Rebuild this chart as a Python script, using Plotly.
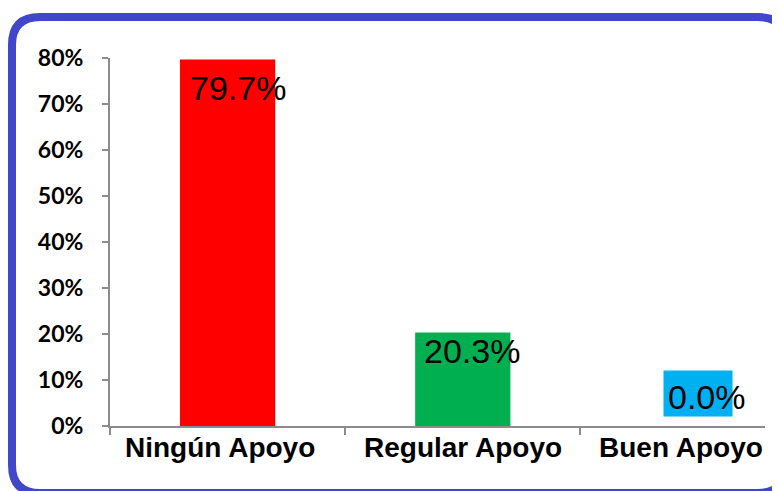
import plotly.graph_objects as go

categories = ["Ningún Apoyo", "Regular Apoyo", "Buen Apoyo"]
values = [0.797, 0.203, 0.0]
bar_colors = ["#FF0000", "#00B050", "#00B0F0"]
y_ticks = [0, 0.1, 0.2, 0.3, 0.4, 0.5, 0.6, 0.7, 0.8]

# the page body adds an 8px margin, so the figure is laid out 8px up/left
OFF = 8
W, H = 780, 491
L, R, T, B = 110 - OFF, 15 + OFF, 58 - OFF, 65 + OFF
pw, ph = W - L - R, H - T - B


def px(x):
    return (x - OFF - L) / pw


def py(y):
    return (H - B - (y - OFF)) / ph


def border_path(x0, y0, x1, y1, r):
    pts = [
        f"M {px(x0 + r)},{py(y0)}",
        f"L {px(x1 - r)},{py(y0)}",
        f"Q {px(x1)},{py(y0)} {px(x1)},{py(y0 + r)}",
        f"L {px(x1)},{py(y1 - r)}",
        f"Q {px(x1)},{py(y1)} {px(x1 - r)},{py(y1)}",
        f"L {px(x0 + r)},{py(y1)}",
        f"Q {px(x0)},{py(y1)} {px(x0)},{py(y1 - r)}",
        f"L {px(x0)},{py(y0 + r)}",
        f"Q {px(x0)},{py(y0)} {px(x0 + r)},{py(y0)} Z",
    ]
    return " ".join(pts)


fig = go.Figure()
fig.add_trace(
    go.Bar(
        x=categories,
        y=values,
        marker={"color": bar_colors, "line": {"width": 0}},
        width=0.405,
        hoverinfo="skip",
    )
)

# data labels (Excel "inside end" style)
label_shift = [(10, -29), (9, -18), (9, 29)]
for cat, val, color, (dx, dy) in zip(categories, values, bar_colors, label_shift):
    if val == 0:
        fig.add_annotation(
            x=cat, y=val, text=" ", showarrow=False,
            width=68, height=45, bgcolor=color,
            yanchor="bottom", yshift=9, borderpad=0,
        )
    fig.add_annotation(
        x=cat, y=val, text=f"{val * 100:.1f}%", showarrow=False,
        xshift=dx, yshift=dy, yanchor="middle",
        font={"family": "Liberation Sans, Arial", "size": 34, "color": "black"},
    )

# category labels (last one nudged left like the original)
cat_shift = [-8, 0, -17]
for cat, dx in zip(categories, cat_shift):
    fig.add_annotation(
        x=cat, y=0, yref="paper", text=cat, showarrow=False,
        yanchor="top", yshift=-4, xshift=dx,
        font={"family": "Liberation Sans, Arial", "size": 28,
              "color": "black", "weight": "bold"},
    )

fig.add_shape(
    type="path", xref="paper", yref="paper",
    path=border_path(12, 17, 786, 493, 28),
    line={"color": "#4047C9", "width": 8},
    layer="above",
)

fig.update_layout(
    width=W, height=H,
    margin={"l": L, "r": R, "t": T, "b": B},
    paper_bgcolor="white",
    plot_bgcolor="white",
    showlegend=False,
    xaxis={
        "range": [-0.5, 2.285],
        "showline": True, "linecolor": "#8C8C8C", "linewidth": 2,
        "ticks": "outside", "tickson": "boundaries", "ticklen": 7,
        "tickcolor": "#8C8C8C", "tickwidth": 2,
        "showticklabels": False,
        "showgrid": False, "zeroline": False,
    },
    yaxis={
        "range": [0, 0.8],
        "tickvals": y_ticks,
        "tickformat": ".0%",
        "showline": True, "linecolor": "#8C8C8C", "linewidth": 2,
        "ticks": "outside", "ticklen": 6, "tickcolor": "#8C8C8C", "tickwidth": 2,
        "tickfont": {"family": "Lato", "size": 23, "color": "black", "weight": "bold"},
        "ticklabelstandoff": 14,
        "showgrid": False, "zeroline": False,
    },
)

fig.write_html("out.html")
